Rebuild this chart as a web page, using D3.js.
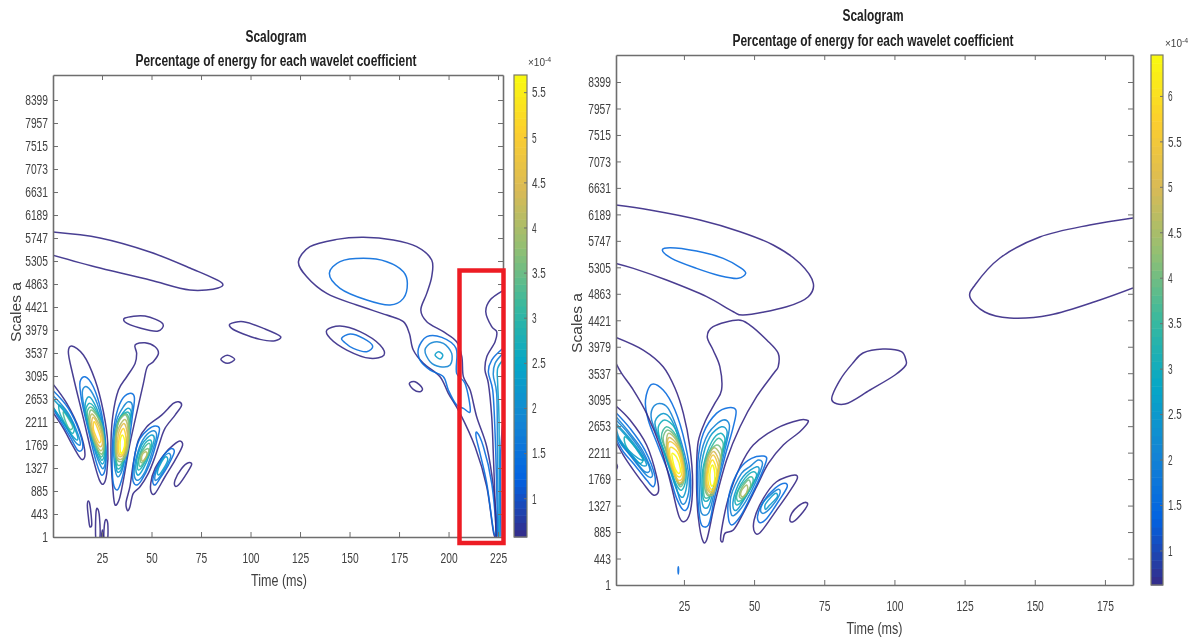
<!DOCTYPE html>
<html>
<head>
<meta charset="utf-8">
<title>Scalogram</title>
<script src="https://cdn.jsdelivr.net/npm/d3@7"></script>
<style>
  html, body { margin: 0; padding: 0; background: #fff; }
  svg { display: block; filter: blur(0.45px); }
  text { font-family: "Liberation Sans Narrow", "Liberation Sans", sans-serif; fill: #404040; }
  .title { font-weight: bold; fill: #222; }
  .domain, .tick line { stroke: #6e6e6e; }
  .contour { fill: none; stroke-width: 1.5; stroke-opacity: 0.9; }
</style>
</head>
<body>
<svg id="plot" width="1188" height="641"></svg>
<script>
// tick labels
const scaleTicks = [1, 443, 885, 1327, 1769, 2211, 2653, 3095, 3537, 3979, 4421, 4863, 5305, 5747, 6189, 6631, 7073, 7515, 7957, 8399];
const leftTimeTicks = [25, 50, 75, 100, 125, 150, 175, 200, 225];
const rightTimeTicks = [25, 50, 75, 100, 125, 150, 175];
const leftBarTicks = [1, 1.5, 2, 2.5, 3, 3.5, 4, 4.5, 5, 5.5];
const rightBarTicks = [1, 1.5, 2, 2.5, 3, 3.5, 4, 4.5, 5, 5.5, 6];

// parula colormap stops
const parula = ["#352a87", "#0363e1", "#1485d4", "#06a7c6", "#38b99e", "#92bf73", "#d9ba56", "#fcce2e", "#f9fb0e"];

// contour levels (x 10^-4)
const leftLevels = [0.57, 1.4, 1.85, 2.3, 2.75, 3.2, 3.65, 4.1, 4.55, 5.1, 5.68];
const rightLevels = [0.6, 1.5, 2, 2.5, 3, 3.5, 4, 4.5, 5, 5.5, 6, 6.4];

// contours: [level index, [[time ms, scale], ...]]
const leftLobe1Open = [
  [0, [[0,2953],[7.2,2569],[13.6,2056],[16.4,1576],[14.7,1492],[10.5,1736],[5.5,2088],[0,2408]]],
  [1, [[0,2825],[8,2473],[13.9,1992],[15.2,1704],[13,1659],[8.8,1928],[3.8,2248],[0,2473]]],
  [2, [[0,2729],[8,2377],[13,1960],[13.9,1768],[11.4,1832],[6.3,2152],[0,2505]]],
  [3, [[0,2665],[8,2313],[12.2,1992],[12.5,1864],[9.7,1960],[4.6,2248],[0,2517]]]
];
const leftLobe1 = [
  [4, [[3.5,2537],[8,2344],[11,2107],[10,1992],[6.3,2184],[3.5,2408]]],
  [5, [[5.5,2408],[8.5,2248],[10.2,2107],[8.8,2069],[6.3,2248]]]
];
const leftLobe2 = [
  [0, [[9.7,3671],[15.6,3498],[21.5,3017],[25.7,2408],[27.9,1800],[27.4,1223],[25.7,1018],[23.7,1095],[19.8,1608],[15.6,2280],[10.5,3081],[8,3562]]],
  [1, [[16.4,3081],[20.6,2889],[24.8,2377],[27,1736],[26.5,1287],[24.8,1191],[22.3,1415],[18.9,1928],[14.7,2633],[13.9,2985]]],
  [2, [[17.3,2889],[21.5,2665],[25.3,2184],[26.9,1608],[25.7,1319],[23.7,1415],[19.8,1864],[15.6,2569],[15.2,2825]]],
  [3, [[18.4,2697],[22.3,2473],[25.7,2056],[26.5,1576],[25.2,1403],[22.7,1576],[19.3,1992],[16.4,2505]]],
  [4, [[18.9,2569],[22.7,2377],[25.7,1960],[26.3,1608],[24.8,1480],[21.5,1768],[18.1,2184],[16.8,2440]]],
  [5, [[19.3,2500],[22.7,2330],[25.4,1960],[26.1,1680],[24.5,1540],[21.5,1800],[18.5,2230],[17.5,2400]]],
  [6, [[19.6,2440],[24.5,2184],[26,1736],[24.5,1595],[20.6,1877],[18.4,2248]]],
  [7, [[20,2364],[24.3,2107],[25.7,1768],[24.3,1659],[21,1896],[18.9,2216]]],
  [8, [[20.6,2300],[24,2056],[25.2,1800],[24,1736],[21.5,1896],[19.8,2152]]],
  [9, [[21.1,2216],[23.7,1992],[24.5,1864],[23.7,1813],[22,1928],[20.6,2088]]]
];
const leftLobe3 = [
  [0, [[31.6,615],[30.4,967],[29.5,1672],[30.4,2312],[33.3,2825],[37.5,3081],[41.7,3337],[42.5,3530],[41.7,3690],[46.7,3735],[51.8,3658],[53.5,3530],[50.9,3370],[47.9,3273],[45.9,2953],[41.7,2248],[38.8,1736],[35.8,1095],[33.6,711]]],
  [1, [[38.8,2761],[41.3,2697],[40.3,2312],[37.8,1608],[34.9,1095],[32.7,903],[30.7,1031],[30.2,1672],[31.6,2248],[34.9,2633]]],
  [2, [[38.3,2601],[40.3,2537],[39.1,2184],[37.1,1608],[34.9,1255],[32.9,1159],[31.4,1351],[30.9,1800],[32.4,2248],[35.8,2505]]],
  [3, [[37.8,2473],[39.7,2408],[38.3,2056],[36.8,1608],[34.6,1290],[32.7,1255],[31.7,1500],[31.7,1928],[33.3,2248]]],
  [4, [[37.3,2400],[39.2,2330],[38.2,2000],[36.5,1590],[34.6,1350],[32.7,1319],[31.9,1560],[32.1,1980],[33.7,2270]]],
  [5, [[37.2,2370],[38.9,2200],[37.9,1900],[36.1,1560],[34.6,1400],[32.9,1383],[32,1560],[32.2,2000],[34,2280]]],
  [6, [[37.1,2344],[38.8,2043],[37.5,1608],[34.6,1447],[32.1,1544],[32.2,2056],[34.1,2261]]],
  [7, [[36.6,2261],[38.3,1992],[37.1,1620],[34.4,1492],[32.4,1576],[32.7,2024]]],
  [8, [[36.1,2184],[37.8,1960],[36.6,1640],[34.4,1544],[32.9,1608],[33.3,1992]]],
  [9, [[35.8,2088],[37.1,1896],[36.1,1640],[34.6,1576],[33.4,1640],[33.8,1928]]],
  [10, [[35.4,1960],[36.5,1832],[35.8,1672],[34.6,1608],[34.1,1736],[34.4,1896]]]
];
const leftLobe4 = [
  [0, [[38,506],[37.1,647],[39.1,967],[40.8,1415],[43.4,1864],[47.6,2120],[55.1,2344],[61,2569],[63.6,2601],[65.2,2537],[61.9,2344],[56.8,2088],[54,1800],[51.8,1544],[48.4,1223],[44.2,967],[40.8,839],[39.1,583]]],
  [1, [[51.8,2133],[54,2088],[52.6,1832],[49.2,1415],[45,1095],[42.5,999],[40.8,1063],[40.5,1223],[41.7,1608],[44.2,1896],[48.4,2069]]],
  [2, [[50.9,2043],[52.6,1960],[50.1,1608],[46.7,1255],[43.4,1095],[41.7,1127],[41.3,1319],[43.4,1672],[46.7,1928]]],
  [3, [[50.1,1960],[51.4,1896],[49.2,1608],[45.9,1319],[43.4,1191],[42.2,1255],[42.5,1480],[45,1768],[47.6,1896]]],
  [4, [[49.2,1864],[50.1,1800],[48.4,1576],[45.5,1364],[43.4,1287],[42.9,1383],[44.2,1608],[46.7,1800]]],
  [5, [[48.9,1800],[49.2,1704],[47.2,1512],[44.7,1364],[43.7,1383],[44.2,1576],[46.7,1736]]],
  [6, [[48.1,1704],[48.6,1640],[46.7,1492],[45,1428],[44.4,1467],[45,1608]]],
  [7, [[47.2,1640],[47.6,1576],[45.9,1467],[45,1480],[45.5,1596]]]
];
const leftLobe5 = [
  [0, [[64.4,1845],[65.7,1768],[61.9,1480],[56.8,1159],[51.8,839],[50.1,839],[49.6,1031],[51.8,1319],[56.8,1608],[61,1768]]],
  [1, [[60.2,1704],[61.5,1640],[58.5,1383],[54.3,1127],[51.8,999],[50.6,1063],[51.8,1255],[55.1,1512],[57.7,1640]]],
  [2, [[58.5,1608],[59.7,1544],[56.8,1319],[53.5,1127],[51.8,1095],[52.3,1255],[55.1,1480]]],
  [3, [[57.3,1544],[58.2,1480],[55.6,1287],[53.5,1191],[53,1255],[55.1,1447]]],
  [0, [[68.6,1428],[70.3,1403],[67.8,1223],[63.6,999],[61.9,980],[61.9,1095],[65.2,1319]]]
];
const leftSmall = [
  [0, [[18.1,691],[18.9,615],[19.8,230],[18.9,198],[18.1,390],[17.6,615]]],
  [0, [[22.7,550],[23.7,390],[23.7,-60],[22,-60],[22,486]]],
  [0, [[27,339],[27.9,262],[27.7,-60],[26.2,-60],[26.2,230]]],
  [0, [[25.2,134],[25.7,-60],[24.7,-60]]],
  [0, [[36.6,4209],[46.7,4248],[55.8,4094],[53.3,3959],[44.2,4017],[36.6,4132]]],
  [0, [[89.6,4094],[96.4,4139],[106.5,4011],[115.2,3851],[112.4,3774],[104.8,3799],[96.4,3902],[90.5,4011]]],
  [0, [[85,3415],[88.3,3492],[92,3415],[88.3,3338]]],
  [0, [[138.5,3977],[145.2,4056],[155.3,3947],[165.4,3690],[167.4,3498],[160.4,3434],[148.6,3594],[140.2,3819]]],
  [1, [[146,3819],[150.3,3902],[157,3819],[161.7,3671],[158.7,3562],[151.9,3626],[147.7,3735]]],
  [0, [[180.2,2953],[183.1,2986],[186.8,2857],[185.6,2793],[182.2,2838]]]
];
const leftTail = [
  [0, [[124.2,5292],[130,5580],[143.5,5721],[157,5760],[172.1,5709],[183.9,5580],[191.5,5324],[191.5,5004],[189,4683],[186,4363],[189,4139],[197.4,3947],[204.1,3754],[206.7,3466],[207.5,3081],[210.9,2825],[214.2,2312],[219.3,1736],[222.6,967],[224.3,38],[223,38],[219.3,967],[213.4,1736],[205.8,2377],[199.9,2762],[195.7,3081],[187.3,3338],[182.2,3594],[180.2,3915],[177.2,4139],[168.8,4267],[153.6,4459],[138.5,4683],[128.4,5004]]],
  [1, [[139.8,5068],[145.2,5292],[157,5356],[168.8,5292],[177.2,5100],[179.2,4876],[177.2,4587],[170.5,4459],[158.7,4555],[145.2,4780]]],
  [1, [[184.8,3626],[189,3851],[196.6,3838],[203.8,3626],[204.1,3146],[208.3,2954],[210.9,2409],[207.5,2473],[204.1,2537],[199.9,2825],[197.4,3081],[190.7,3210],[185.6,3402]]],
  [2, [[188.1,3594],[191.5,3735],[197.4,3722],[201.6,3530],[200.8,3306],[195.7,3274],[190.7,3370]]],
  [3, [[193.2,3498],[194.9,3562],[197.1,3498],[195.7,3421]]],
  [1, [[214.2,2018],[217.6,1736],[221.8,1031],[224,70],[223,70],[219.3,1031],[215.9,1608],[213.9,1928]]]
];
const leftOpen = [
  [0, [[0,5862],[24,5747],[49.2,5478],[69.4,5170],[85.6,4882],[83.6,4786],[69.4,4747],[49.2,4940],[24,5170],[0,5420]]],
  [0, [[227.5,4735],[221,4555],[218.8,4331],[221.8,4043],[224.3,3947],[223.5,3754],[219.3,3466],[218.4,3210],[220.1,2954],[221.8,2313],[222.6,1608],[223.5,646],[224,6]]],
  [1, [[227.5,3626],[221.8,3402],[220.1,3178],[222.3,2825],[223.5,1993],[224.3,967],[224.8,6]]],
  [2, [[227.5,3530],[223.5,3338],[222.6,3114],[224.3,2761],[224.7,1608],[225.2,6]]],
  [3, [[227.5,3402],[224.8,3242],[224.8,2954],[225.5,2249],[225.8,6]]],
  [1, [[227.5,2249],[226.2,1480],[226.5,6]]]
];

const rightLobe1Open = [
  [0, [[0.8,2989],[5.8,2755],[11.7,2338],[15.3,1809],[15.9,1558],[14.1,1503],[10.5,1698],[7,1920],[3.4,2171],[0.8,2393]]],
  [1, [[0.8,2878],[5.8,2616],[11.1,2254],[14.7,1809],[14.1,1642],[11.7,1753],[7,2031],[3.4,2226],[0.8,2449]]],
  [2, [[0.8,2811],[5.8,2532],[10.5,2226],[13.8,1837],[12.3,1809],[8.1,2031],[4,2282],[0.8,2505]]],
  [2, [[0.8,2755],[5.2,2532],[9.9,2226],[12.9,1920],[11.1,1892],[7,2115],[2.8,2338],[0.8,2532]]],
  [3, [[0.8,2699],[5.2,2477],[9.3,2226],[11.7,2004],[9.9,2004],[6.4,2171],[2.2,2393],[0.8,2490]]]
];
const rightLobe1 = [
  [3, [[1,2644],[5.2,2449],[8.7,2226],[10.5,2087],[8.7,2115],[5.2,2254],[2,2449]]],
  [4, [[4,2477],[7,2338],[10.5,2115],[9.3,2031],[6.4,2171],[4,2365]]],
  [0, [[0.8,2030],[1.3,1976],[0.8,1931]]]
];
const rightLobe2Open = [
  [0, [[0.8,4135],[10.5,3924],[17.6,3646],[21.8,3289],[24.8,2866],[27.1,2310],[28.1,1698],[27.1,1197],[25,1057],[23.3,1141],[20.6,1642],[17,2254],[11.7,2866],[7,3256],[2.8,3534],[0.8,3701]]]
];
const rightLobe2 = [
  [1, [[13.5,3351],[17.6,3256],[21.8,2922],[25.4,2365],[27.4,1753],[26.5,1308],[24.8,1252],[22.4,1447],[20,1809],[15.9,2310],[12.3,2755],[11.3,3089]]],
  [2, [[16.2,3033],[19.4,2950],[24.2,2365],[26.9,1753],[25.7,1391],[24.2,1364],[21.8,1698],[18.2,2198],[13.5,2755],[13.8,2950]]],
  [3, [[17.6,2866],[20.6,2755],[24.2,2282],[26.2,1781],[24.8,1475],[23,1531],[20,1920],[16.4,2421],[14.7,2728]]],
  [4, [[18.2,2755],[21.8,2616],[24.5,2198],[25.7,1781],[24.2,1586],[22.4,1670],[19.4,2059],[16.4,2449],[15.9,2644]]],
  [5, [[18.8,2644],[22.1,2505],[24.8,2115],[25,1809],[23.6,1670],[21.8,1837],[19.4,2171],[17,2477]]],
  [6, [[19.2,2590],[22.3,2450],[24.9,2080],[25.2,1770],[23.7,1640],[21.7,1820],[19,2170],[17.6,2450]]],
  [7, [[19.4,2530],[22.5,2400],[24.8,2040],[25,1760],[23.4,1690],[21.4,1870],[18.9,2220]]],
  [8, [[19.6,2460],[22.6,2340],[24.7,2020],[24.7,1760],[23.1,1710],[21.2,1910],[19.2,2240]]],
  [9, [[19.8,2393],[22.6,2299],[24.5,2004],[24.4,1781],[22.9,1753],[21,1948],[19.4,2226]]],
  [10, [[20.2,2299],[22.6,2226],[24.2,1976],[23.9,1820],[22.6,1820],[21,2004],[20,2171]]],
  [11, [[20.8,2198],[22.4,2132],[23.7,1948],[23.3,1865],[22.1,1920],[21,2087]]]
];
const rightLobe3 = [
  [0, [[33.3,4147],[35.4,4314],[44.4,4425],[48.5,4341],[54.5,4091],[58.6,3868],[58.6,3646],[57.4,3562],[50.9,3145],[45,2644],[40.2,2087],[36,1364],[33.1,752],[31.9,723],[30.1,1141],[29.5,1809],[30.1,2393],[32.8,2755],[36,3033],[38.4,3256],[37.8,3646],[35.4,3924]]],
  [1, [[40.8,2961],[43.5,2922],[42.6,2644],[39.6,2143],[36,1475],[33.7,1002],[31.3,1002],[30.1,1364],[29.9,2031],[31.9,2532],[36.6,2866]]],
  [2, [[39,2755],[41.2,2672],[39.6,2254],[36,1586],[33.7,1197],[31.3,1197],[30.5,1531],[30.7,2087],[33.7,2532]]],
  [3, [[38.4,2644],[40.4,2560],[38.8,2198],[36,1670],[33.7,1308],[31.9,1308],[31.1,1586],[31.3,2031],[34.3,2477]]],
  [4, [[37.8,2532],[39.6,2449],[38.4,2143],[36,1698],[33.7,1419],[32.1,1419],[31.5,1642],[31.9,1976],[34.9,2393]]],
  [5, [[37.2,2449],[39,2365],[37.8,2059],[35.7,1640],[33.9,1470],[32.3,1470],[32,1725],[32.4,2031],[35.2,2338]]],
  [6, [[36.6,2338],[38.4,2254],[37.6,1976],[35.7,1620],[33.9,1490],[32.5,1600],[32.4,1850],[33.5,2170]]],
  [7, [[36.1,2290],[38,2150],[37.3,1850],[35.4,1510],[33.4,1530],[32.7,1780],[33.3,2080],[34.5,2230]]],
  [8, [[35.7,2230],[37.6,2040],[36.8,1770],[35,1530],[33,1640],[33.3,1950],[34,2130]]],
  [9, [[35.4,2171],[37.2,1976],[36.4,1725],[34.9,1558],[33.3,1670],[33.7,1976]]],
  [10, [[35.2,2087],[36.6,1920],[36.2,1698],[34.9,1597],[33.7,1698],[33.9,1948]]],
  [11, [[35.2,2004],[36,1865],[35.7,1698],[34.9,1653],[34.3,1753],[34.4,1920]]]
];
const rightLobe4 = [
  [0, [[68.7,2755],[69.3,2727],[66.3,2560],[60.4,2338],[55.1,2031],[50.9,1642],[46.1,1197],[42.6,918],[39.6,863],[38.8,723],[38.1,751],[38.4,918],[40.8,1447],[45,1976],[49.7,2338],[58,2616],[66.3,2755]]],
  [1, [[53.3,2154],[54.5,2115],[52.7,1865],[48.5,1447],[45,1141],[42,1002],[40.8,1141],[41.2,1531],[45,1948],[49.1,2115]]],
  [2, [[51.5,2087],[53,2031],[50.9,1753],[47.3,1419],[43.8,1197],[42,1169],[41.7,1475],[45.5,1865],[48.5,1976]]],
  [3, [[50.9,1976],[51.8,1920],[49.7,1698],[46.7,1447],[43.8,1252],[42.6,1280],[43,1503],[46.1,1809]]],
  [4, [[49.7,1892],[50.9,1837],[49.1,1642],[46.1,1419],[44,1336],[43.2,1391],[44,1558],[46.7,1781]]],
  [5, [[48.8,1809],[49.7,1753],[48.2,1586],[45.5,1419],[44.1,1408],[44,1531],[46.1,1698]]],
  [6, [[48,1753],[48.8,1670],[47.3,1531],[45.5,1447],[44.7,1486],[45.5,1614]]],
  [7, [[47.3,1670],[47.7,1598],[46.4,1486],[45.4,1486],[45.5,1575]]]
];
const rightLobe5 = [
  [0, [[64.5,1837],[65.4,1781],[62.2,1531],[58,1252],[52.1,874],[50.3,874],[50,1085],[53.3,1447],[58,1725]]],
  [1, [[61,1698],[61.8,1642],[58.6,1391],[54.5,1113],[52.1,1041],[51.2,1141],[53.3,1391],[57.4,1614]]],
  [2, [[58.6,1598],[59.2,1531],[56.2,1308],[53.3,1197],[52.3,1252],[53.9,1419]]],
  [3, [[57.8,1531],[58.3,1475],[55.6,1336],[54.1,1263],[53.9,1336],[55.6,1447]]],
  [0, [[68.1,1380],[69.1,1352],[67.5,1224],[64,1058],[62.8,1074],[63.4,1197],[65.7,1319]]],
  [1, [[23,306],[23.1,250],[23,184],[22.9,250]]]
];
const rightUpper = [
  [1, [[17.3,5594],[20,5633],[29.5,5577],[39,5455],[45.5,5288],[47,5205],[44.4,5121],[37.8,5166],[29.5,5288],[20.6,5455]]],
  [0, [[104.1,3757],[102.5,3896],[95.9,3941],[88.8,3874],[85.2,3707],[80.6,3423],[77.7,3090],[82.4,3023],[91.3,3257],[100.2,3507],[104.1,3674]]]
];
const rightOpen = [
  [0, [[0.8,6346],[12.9,6262],[30.7,6095],[45,5900],[56.8,5678],[66.3,5372],[71.1,5038],[69.3,4815],[61.6,4648],[46.1,4509],[42.6,4564],[33.1,4815],[18.8,5093],[7,5288],[0.8,5371]]],
  [0, [[185,6129],[169.6,6012],[151.8,5812],[137.6,5461],[128.7,5010],[126.9,4810],[132.2,4559],[141.1,4459],[155.4,4509],[173.2,4760],[185,4960]]]
];

const svg = d3.select("#plot");

function drawPanel(p) {
    const x = d3.scaleLinear().domain(p.timeDomain).range([p.left, p.right]);
    const y = d3.scaleLinear().domain(p.scaleDomain).range([p.bottom, p.top]);
    const color = d3.scaleLinear()
        .domain(parula.map((c, i) => p.barDomain[0] + i * (p.barDomain[1] - p.barDomain[0]) / (parula.length - 1)))
        .range(parula);

    const clipId = "clip-" + p.name;
    svg.append("clipPath").attr("id", clipId).append("rect")
        .attr("x", p.left).attr("y", p.top)
        .attr("width", p.right - p.left).attr("height", p.bottom - p.top);

    const g = svg.append("g").attr("clip-path", `url(#${clipId})`);
    const closedLine = d3.line().x(d => x(d[0])).y(d => y(d[1])).curve(d3.curveCatmullRomClosed.alpha(0.2));
    const openLine = d3.line().x(d => x(d[0])).y(d => y(d[1])).curve(d3.curveCatmullRom.alpha(0.2));

    g.selectAll(".closed").data(p.closed).enter().append("path")
        .attr("class", "contour closed")
        .attr("stroke", d => color(p.levels[d[0]]))
        .attr("d", d => closedLine(d[1]));
    g.selectAll(".open").data(p.open).enter().append("path")
        .attr("class", "contour open")
        .attr("stroke", d => color(p.levels[d[0]]))
        .attr("d", d => openLine(d[1]));

    // box with inward ticks on all four sides
    const bottomAxis = svg.append("g").attr("transform", `translate(0,${p.bottom})`)
        .call(d3.axisBottom(x).tickValues(p.timeTicks).tickSizeInner(-5).tickSizeOuter(0).tickPadding(15).tickFormat(d3.format("d")));
    svg.append("g").attr("transform", `translate(0,${p.top})`)
        .call(d3.axisTop(x).tickValues(p.timeTicks).tickSizeInner(-5).tickSizeOuter(0).tickFormat(""));
    const leftAxis = svg.append("g").attr("transform", `translate(${p.left},0)`)
        .call(d3.axisLeft(y).tickValues(scaleTicks).tickSizeInner(-5).tickSizeOuter(0).tickPadding(5).tickFormat(d3.format("d")));
    svg.append("g").attr("transform", `translate(${p.right},0)`)
        .call(d3.axisRight(y).tickValues(scaleTicks).tickSizeInner(-5).tickSizeOuter(0).tickFormat(""));

    [bottomAxis, leftAxis].forEach(a => a.selectAll("text")
        .attr("font-size", 15)
        .attr("textLength", d => String(d).length * 5.7)
        .attr("lengthAdjust", "spacingAndGlyphs"));
    svg.selectAll(".domain").attr("stroke-width", 1.6);

    // colorbar
    const barY = d3.scaleLinear().domain(p.barDomain).range([p.bottom, p.top]);
    const cells = d3.range(64);
    const cellH = (p.bottom - p.top) / cells.length;
    svg.append("g").selectAll("rect").data(cells).enter().append("rect")
        .attr("x", p.barLeft)
        .attr("y", d => p.bottom - (d + 1) * cellH)
        .attr("width", p.barRight - p.barLeft)
        .attr("height", cellH + 0.5)
        .attr("fill", d => color(p.barDomain[0] + (d + 0.5) * (p.barDomain[1] - p.barDomain[0]) / cells.length));
    svg.append("rect")
        .attr("x", p.barLeft).attr("y", p.top)
        .attr("width", p.barRight - p.barLeft).attr("height", p.bottom - p.top)
        .attr("fill", "none").attr("stroke", "#7a7a6a").attr("stroke-width", 1.2);
    const barAxis = svg.append("g").attr("transform", `translate(${p.barRight},0)`)
        .call(d3.axisRight(barY).tickValues(p.barTicks).tickSizeInner(-3).tickSizeOuter(0).tickPadding(5).tickFormat(d => String(d)));
    barAxis.select(".domain").remove();
    barAxis.selectAll("line").attr("stroke", "#444");
    barAxis.selectAll("text")
        .attr("font-size", 15)
        .attr("textLength", d => String(d).length * 4.6)
        .attr("lengthAdjust", "spacingAndGlyphs");

    // multiplier above the colorbar
    const mult = svg.append("text").attr("x", p.multX).attr("y", p.multY).attr("font-size", 10);
    mult.append("tspan").text("\u00d710");
    mult.append("tspan").attr("dy", -4).attr("font-size", 7).text("-4");

    // titles and axis labels
    svg.append("text").attr("class", "title").attr("x", p.titleX).attr("y", p.titleY1)
        .attr("text-anchor", "middle").attr("font-size", 16)
        .attr("textLength", 61).attr("lengthAdjust", "spacingAndGlyphs").text("Scalogram");
    svg.append("text").attr("class", "title").attr("x", p.titleX).attr("y", p.titleY2)
        .attr("text-anchor", "middle").attr("font-size", 16)
        .attr("textLength", 281).attr("lengthAdjust", "spacingAndGlyphs")
        .text("Percentage of energy for each wavelet coefficient");
    svg.append("text").attr("x", (p.left + p.right) / 2 + p.xLabelDx).attr("y", p.xLabelY)
        .attr("text-anchor", "middle").attr("font-size", 16)
        .attr("textLength", 56).attr("lengthAdjust", "spacingAndGlyphs").text("Time (ms)");
    svg.append("text").attr("transform", `translate(${p.yLabelX},${p.yLabelY}) rotate(-90)`)
        .attr("text-anchor", "middle").attr("font-size", 14)
        .attr("textLength", 60).attr("lengthAdjust", "spacingAndGlyphs")
        .attr("font-family", "Liberation Sans")
        .text("Scales a");
}

drawPanel({
    name: "left",
    left: 53, right: 503, top: 75, bottom: 537,
    timeDomain: [0.25, 227.5], scaleDomain: [1, 8880],
    timeTicks: leftTimeTicks, barTicks: leftBarTicks,
    barLeft: 514, barRight: 527, barDomain: [0.57, 5.69],
    levels: leftLevels,
    closed: [].concat(leftLobe1, leftLobe2, leftLobe3, leftLobe4, leftLobe5, leftSmall, leftTail),
    open: [].concat(leftLobe1Open, leftOpen),
    multX: 528, multY: 66,
    titleX: 276, titleY1: 42, titleY2: 66,
    xLabelDx: 1, xLabelY: 586,
    yLabelX: 21, yLabelY: 312
});

drawPanel({
    name: "right",
    left: 616, right: 1133, top: 55, bottom: 585,
    timeDomain: [0.8, 185], scaleDomain: [1, 8850],
    timeTicks: rightTimeTicks, barTicks: rightBarTicks,
    barLeft: 1151, barRight: 1163, barDomain: [0.62, 6.45],
    levels: rightLevels,
    closed: [].concat(rightLobe1, rightLobe2, rightLobe3, rightLobe4, rightLobe5, rightUpper),
    open: [].concat(rightLobe1Open, rightLobe2Open, rightOpen),
    multX: 1165, multY: 47,
    titleX: 873, titleY1: 21, titleY2: 46,
    xLabelDx: 0, xLabelY: 634,
    yLabelX: 582, yLabelY: 323
});

// red annotation box around the tail of the left panel
svg.append("rect")
    .attr("x", 459.5).attr("y", 270.5)
    .attr("width", 44).attr("height", 272.5)
    .attr("fill", "none")
    .attr("stroke", "#ed1c24")
    .attr("stroke-width", 4.5);
</script>
</body>
</html>
